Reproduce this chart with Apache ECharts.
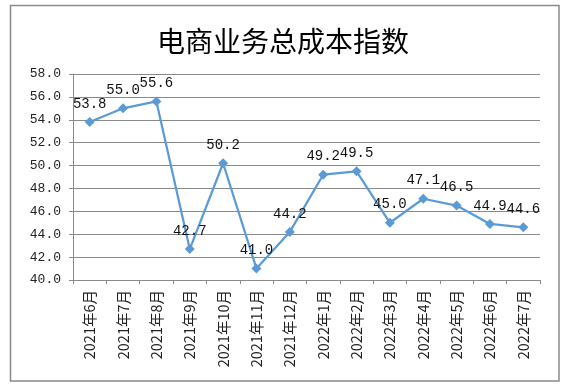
<!DOCTYPE html>
<html><head><meta charset="utf-8">
<script src="https://cdn.jsdelivr.net/npm/echarts@6/dist/echarts.min.js"></script>
<style>html,body{margin:0;padding:0;background:#fff}#c{width:566px;height:389px}</style>
</head><body><div id="c"></div>
<script>
var title = '电商业务总成本指数';
var categories = ['2021年6月','2021年7月','2021年8月','2021年9月','2021年10月','2021年11月','2021年12月','2022年1月','2022年2月','2022年3月','2022年4月','2022年5月','2022年6月','2022年7月'];
var values = [53.8, 55.0, 55.6, 42.7, 50.2, 41.0, 44.2, 49.2, 49.5, 45.0, 47.1, 46.5, 44.9, 44.6];
var yMin = 40, yMax = 58, yStep = 2;

var chart = echarts.init(document.getElementById('c'), null, {renderer:'canvas'});
chart.setOption({
  animation: false,
  backgroundColor: '#fff',
  title: {
    text: title, left: 'center', top: 22,
    textStyle: {fontFamily: 'Noto Sans CJK SC', fontSize: 28, fontWeight: 'normal', color: '#000'}
  },
  graphic: [{
    type: 'rect', shape: {x: 10.5, y: 5.5, width: 548.5, height: 375.5},
    style: {fill: 'none', stroke: '#8a8a8a', lineWidth: 1.5}, silent: true
  }],
  grid: {left: 73, right: 26, top: 74, bottom: 109},
  xAxis: {
    type: 'category', data: categories, boundaryGap: true,
    axisLine: {lineStyle: {color: '#8a8a8a', width: 1}},
    axisTick: {show: true, length: 4, lineStyle: {color: '#8a8a8a'}},
    axisLabel: {rotate: 90, interval: 0, margin: 10, fontFamily: 'Noto Sans CJK SC', fontSize: 14.5, color: '#222'}
  },
  yAxis: {
    type: 'value', min: yMin, max: yMax, interval: yStep,
    axisLine: {show: true, lineStyle: {color: '#8a8a8a', width: 1}},
    axisTick: {show: true, length: 4, lineStyle: {color: '#8a8a8a'}},
    splitLine: {lineStyle: {color: '#8a8a8a', width: 1}},
    axisLabel: {margin: 12, formatter: function(v){return v.toFixed(1);}, fontFamily: 'Liberation Mono', fontSize: 13, color: '#222'}
  },
  series: [{
    type: 'line', data: values,
    symbol: 'diamond', symbolSize: 10,
    lineStyle: {color: '#5B9BD5', width: 2.25},
    itemStyle: {color: '#5B9BD5'},
    label: {show: true, position: 'top', distance: 6, formatter: function(p){return p.value.toFixed(1);},
      fontFamily: 'Liberation Mono', fontSize: 14, color: '#111'}
  }]
});
</script></body></html>
